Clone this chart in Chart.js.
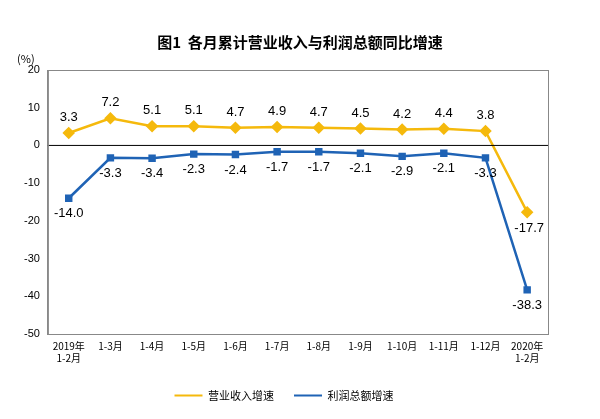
<!DOCTYPE html>
<html><head><meta charset="utf-8">
<script src="https://cdn.jsdelivr.net/npm/chart.js@4"></script>
<style>body{margin:0;background:#fff}</style>
</head><body><canvas id="c" width="600" height="419"></canvas>
<script>
const categories=[["2019年","1-2月"],"1-3月","1-4月","1-5月","1-6月","1-7月","1-8月","1-9月","1-10月","1-11月","1-12月",["2020年","1-2月"]];
const revenue=[3.3,7.2,5.1,5.1,4.7,4.9,4.7,4.5,4.2,4.4,3.8,-17.7];
const profit=[-14.0,-3.3,-3.4,-2.3,-2.4,-1.7,-1.7,-2.1,-2.9,-2.1,-3.3,-38.3];
const yTicks=[20,10,0,-10,-20,-30,-40,-50];
const font='"SimSun","Noto Sans CJK SC",sans-serif';
const labelPlugin={id:'lbl',afterDatasetsDraw(ch){const ctx=ch.ctx;ctx.save();ctx.font='13px "Liberation Sans",Arial';ctx.fillStyle='#000';ctx.textAlign='center';
ch.data.datasets.forEach((ds,i)=>{ch.getDatasetMeta(i).data.forEach((p,j)=>{const v=ds.data[j];let x=p.x,y;
if(i===0){y=p.y-9;ctx.textBaseline='bottom';if(j===11){x+=2;y=p.y+10;ctx.textBaseline='top';}}
else{y=p.y+9;ctx.textBaseline='top';}
ctx.fillText(v.toFixed(1),x,y);});});
const ys=ch.scales.y,a=ch.chartArea;ctx.strokeStyle='#000';ctx.lineWidth=1;ctx.beginPath();ctx.moveTo(a.left,ys.getPixelForValue(0));ctx.lineTo(a.right,ys.getPixelForValue(0));ctx.stroke();
ctx.font='11px '+font;ctx.textAlign='center';ctx.textBaseline='bottom';ctx.fillText('(%)',a.left-22,a.top-6);
ctx.font='bold 15px '+font;ctx.fillText('图1  各月累计营业收入与利润总额同比增速',300,50);
ctx.restore();}};
new Chart(document.getElementById('c'),{type:'line',
data:{labels:categories,datasets:[
{label:'营业收入增速',data:revenue,borderColor:'#F5B90C',backgroundColor:'#F5B90C',borderWidth:2.5,pointStyle:'rectRot',pointRadius:4.5,tension:0},
{label:'利润总额增速',data:profit,borderColor:'#1F63B5',backgroundColor:'#1F63B5',borderWidth:2.5,pointStyle:'rect',pointRadius:3.5,tension:0}]},
options:{responsive:false,animation:false,devicePixelRatio:1,
layout:{padding:{top:70,left:20,right:52,bottom:8}},
plugins:{legend:{position:'bottom',labels:{boxWidth:28,boxHeight:2,padding:20,font:{family:font,size:11},color:'#000',
generateLabels(ch){return ch.data.datasets.map((d,i)=>({text:d.label,fillStyle:d.borderColor,strokeStyle:d.borderColor,lineWidth:0,datasetIndex:i}));}}},tooltip:{enabled:false}},
scales:{x:{offset:true,grid:{display:false,drawTicks:false},border:{color:'#888'},ticks:{font:{family:font,size:10},color:'#000',maxRotation:0,autoSkip:false,padding:6}},
y:{min:-50,max:20,afterBuildTicks(s){s.ticks=yTicks.map(v=>({value:v}));},grid:{display:false,drawTicks:true,tickLength:4},border:{color:'#888'},ticks:{font:{family:'"Liberation Sans",Arial',size:11},color:'#000',padding:4}}}},
plugins:[labelPlugin,{id:'box',afterDraw(ch){const a=ch.chartArea,c=ch.ctx;c.save();c.strokeStyle='#888';c.lineWidth=1;c.strokeRect(a.left+.5,a.top+.5,a.width,a.height);c.restore();}}]});
</script>
</body></html>
